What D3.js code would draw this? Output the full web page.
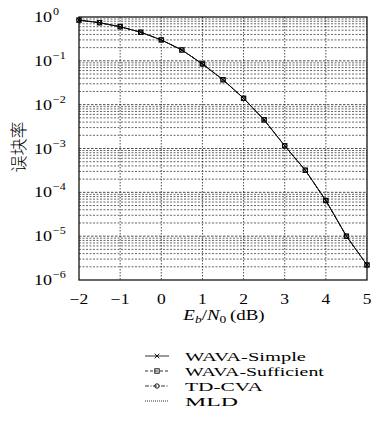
<!DOCTYPE html>
<html><head><meta charset="utf-8">
<script src="https://cdn.jsdelivr.net/npm/d3@7"></script>
<style>body{margin:0;background:#fff}</style>
</head><body>
<svg id="c" width="371" height="434"></svg>
<script>
const ebn0 = [-2,-1.5,-1,-0.5,0,0.5,1,1.5,2,2.5,3,3.5,4,4.5,5];
const wavaSimple     = [0.85,0.74,0.60,0.45,0.30,0.177,0.085,0.037,0.014,0.0045,0.00115,0.00032,0.000065,0.0000100,0.0000022];
const wavaSufficient = [0.85,0.74,0.60,0.45,0.30,0.177,0.085,0.037,0.014,0.0045,0.00115,0.00032,0.000065,0.0000100,0.0000022];
const tdCva          = [0.85,0.74,0.60,0.45,0.30,0.177,0.085,0.037,0.014,0.0045,0.00115,0.00032,0.000065,0.0000100,0.0000022];
const mld            = [0.85,0.74,0.60,0.45,0.30,0.177,0.085,0.037,0.014,0.0045,0.00115,0.00032,0.000065,0.0000100,0.0000022];
const xTicks = [-2,-1,0,1,2,3,4,5];
const yExponents = [0,-1,-2,-3,-4,-5,-6];
const seriesNames = ["WAVA-Simple","WAVA-Sufficient","TD-CVA","MLD"];

const svg = d3.select("#c");
const L=79,R=367,T=17,B=280;
const x = d3.scaleLinear().domain([-2,5]).range([L,R]);
const y = d3.scaleLog().domain([1e-6,1]).range([B,T]);
const serif = "'Liberation Serif','DejaVu Serif',serif";

function stext(parent, ax, ay, k, anchor, size, str){
  const gg = parent.append("g").attr("transform",`translate(${ax},${ay}) scale(${k},1)`);
  return gg.append("text").attr("x",0).attr("y",0).attr("text-anchor",anchor)
    .attr("font-family",serif).attr("font-size",size).attr("fill","#000").text(str);
}

// grid
const g = svg.append("g");
const minor=[];
for(let e=-6;e<0;e++) for(let k=2;k<=9;k++) minor.push(k*Math.pow(10,e));
g.selectAll(".mn").data(minor).enter().append("line")
 .attr("x1",L).attr("x2",R).attr("y1",d=>y(d)).attr("y2",d=>y(d))
 .attr("stroke","#000").attr("stroke-width",0.6).attr("stroke-dasharray","2,1.5");
g.selectAll(".mj").data(yExponents.slice(1,-1)).enter().append("line")
 .attr("x1",L).attr("x2",R).attr("y1",d=>y(Math.pow(10,d))).attr("y2",d=>y(Math.pow(10,d)))
 .attr("stroke","#000").attr("stroke-width",0.7).attr("stroke-dasharray","2.5,1.5");
g.selectAll(".vx").data(xTicks.slice(1,-1)).enter().append("line")
 .attr("x1",d=>x(d)).attr("x2",d=>x(d)).attr("y1",T).attr("y2",B)
 .attr("stroke","#000").attr("stroke-width",0.7).attr("stroke-dasharray","1.5,1.5");

// frame
svg.append("rect").attr("x",L).attr("y",T).attr("width",R-L).attr("height",B-T)
 .attr("fill","none").attr("stroke","#000").attr("stroke-width",1.2);

// x ticks
const xa = d3.axisBottom(x).tickValues(xTicks).tickSize(0).tickFormat("");
svg.append("g").attr("transform",`translate(0,${B})`).call(xa).call(s=>s.select(".domain").remove());
const xt = svg.append("g");
xTicks.forEach(v=>{
  stext(xt, x(v), 304, 1.25, "middle", 14, v<0?"\u2212"+(-v):String(v));
});

// y ticks
const yl = svg.append("g");
yExponents.forEach(e=>{
  const yy = y(Math.pow(10,e));
  stext(yl, 52, yy+5, 1.2, "end", 15, "10");
  stext(yl, 53, yy-2, 1.15, "start", 10.5, e===0?"0":"\u2212"+(-e));
});

// x label
const xlg = svg.append("g").attr("transform","translate(224,320) scale(1.35,1)");
const xl = xlg.append("text").attr("x",0).attr("y",0).attr("text-anchor","middle")
 .attr("font-family",serif).attr("font-size",14).attr("fill","#000");
xl.append("tspan").attr("font-style","italic").text("E");
xl.append("tspan").attr("font-style","italic").attr("font-size",10).attr("dy",3).text("b");
xl.append("tspan").attr("dy",-3).text("/");
xl.append("tspan").attr("font-style","italic").text("N");
xl.append("tspan").attr("font-size",10).attr("dy",3).text("0");
xl.append("tspan").attr("dy",-3).text("\u2009(dB)");

// y label
svg.append("text").attr("transform","translate(25,147) rotate(-90)").attr("text-anchor","middle")
 .attr("font-family","'Noto Sans CJK SC'").attr("font-weight",300).attr("font-size",17).attr("fill","#000").text("误块率");

// series
const line = d3.line().x(d=>x(d[0])).y(d=>y(d[1]));
const data = [wavaSimple,wavaSufficient,tdCva,mld];
const dashes = [null,"3,2","4,1.5,1,1.5","1,1"];
const ps = svg.append("g");
data.forEach((vals,i)=>{
  const pts = ebn0.map((v,j)=>[v,vals[j]]);
  ps.append("path").attr("d",line(pts)).attr("fill","none").attr("stroke","#000")
   .attr("stroke-width",0.8).attr("stroke-dasharray",dashes[i]);
});
function marker(sel,type,cx,cy){
  if(type===0){ sel.append("path").attr("d",`M${cx-2.3},${cy-2.3}L${cx+2.3},${cy+2.3}M${cx-2.3},${cy+2.3}L${cx+2.3},${cy-2.3}`).attr("stroke","#000").attr("stroke-width",0.9); }
  else if(type===1){ sel.append("rect").attr("x",cx-2.2).attr("y",cy-2.2).attr("width",4.4).attr("height",4.4).attr("fill","none").attr("stroke","#000").attr("stroke-width",0.9); }
  else if(type===2){ sel.append("circle").attr("cx",cx).attr("cy",cy).attr("r",2.2).attr("fill","none").attr("stroke","#000").attr("stroke-width",0.9); }
}
[0,1,2].forEach(i=>{
  ebn0.forEach((v,j)=>marker(ps,i,x(v),y(data[i][j])));
});

// legend
const lg = svg.append("g");
const ly = [356,371,386,401];
const legendWidths = [121,139,78,53];
seriesNames.forEach((n,i)=>{
  lg.append("line").attr("x1",145).attr("x2",169).attr("y1",ly[i]).attr("y2",ly[i])
   .attr("stroke","#000").attr("stroke-width",0.8).attr("stroke-dasharray",dashes[i]);
  marker(lg,i,157,ly[i]);
  const t = stext(lg, 185, ly[i]+5, 1, "start", 13, n);
  const w = t.node().getComputedTextLength();
  d3.select(t.node().parentNode).attr("transform",`translate(185,${ly[i]+5}) scale(${legendWidths[i]/w},1)`);
});
</script>
</body></html>
